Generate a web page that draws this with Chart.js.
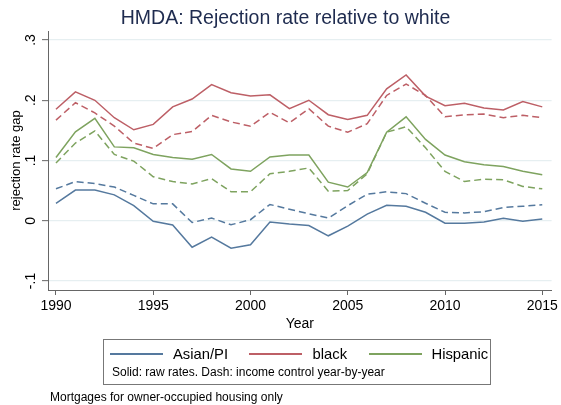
<!DOCTYPE html>
<html>
<head>
<meta charset="utf-8">
<script src="https://cdn.jsdelivr.net/npm/chart.js@4"></script>
<style>
  html, body { margin:0; padding:0; background:#fff; }
  #wrap { position:relative; width:561px; height:405px; background:#fff; overflow:hidden;
          font-family:"Liberation Sans", Arial, Helvetica, sans-serif; }
  #c { position:absolute; left:0; top:0; }
  .t { position:absolute; white-space:nowrap; color:#000; }
  #title { left:0; width:571px; text-align:center; top:7px; font-size:19.5px; line-height:20px; color:#1e2b4f; }
  #legbox { position:absolute; left:103px; top:339px; width:388px; height:46px; box-sizing:border-box; border:1px solid #777; }
  .ls { position:absolute; height:1.5px; width:53px; top:353px; }
  .lt { font-size:14.8px; line-height:16px; top:346px; }
  #note { left:112px; top:364.5px; font-size:12px; line-height:14px; }
  #foot { left:50px; top:389.5px; font-size:12px; line-height:14px; }
</style>
</head>
<body>
<div id="wrap">
  <canvas id="c" width="561" height="405"></canvas>
  <div class="t" id="title">HMDA: Rejection rate relative to white</div>
  <div id="legbox"></div>
  <div class="ls" id="ls0" style="left:110px;"></div>
  <div class="t lt" id="lt0" style="left:173px;"></div>
  <div class="ls" id="ls1" style="left:249px;"></div>
  <div class="t lt" id="lt1" style="left:312.5px;"></div>
  <div class="ls" id="ls2" style="left:368.5px;"></div>
  <div class="t lt" id="lt2" style="left:431.5px;"></div>
  <div class="t" id="note">Solid: raw rates. Dash: income control year-by-year</div>
  <div class="t" id="foot">Mortgages for owner-occupied housing only</div>
</div>
<script>
// ---- data ----
const years = [1990,1991,1992,1993,1994,1995,1996,1997,1998,1999,2000,2001,2002,2003,2004,2005,2006,2007,2008,2009,2010,2011,2012,2013,2014,2015];
const groups = ['Asian/PI', 'black', 'Hispanic'];
const asianRaw = [0.029,0.051,0.051,0.043,0.025,-0.001,-0.007,-0.044,-0.027,-0.0455,-0.040,-0.002,-0.0055,-0.008,-0.025,-0.009,0.011,0.0255,0.024,0.014,-0.004,-0.004,-0.002,0.004,-0.001,0.003];
const asianInc = [0.053,0.065,0.0616,0.056,0.042,0.028,0.028,-0.003,0.0044,-0.0067,0.0017,0.027,0.019,0.0116,0.0044,0.025,0.044,0.048,0.045,0.029,0.014,0.013,0.015,0.022,0.024,0.0266];
const blackRaw = [0.185,0.214,0.200,0.171,0.151,0.160,0.189,0.202,0.226,0.2125,0.207,0.209,0.186,0.200,0.176,0.168,0.175,0.219,0.242,0.207,0.191,0.195,0.187,0.184,0.198,0.189];
const blackInc = [0.167,0.196,0.179,0.157,0.129,0.120,0.143,0.148,0.175,0.164,0.157,0.180,0.1625,0.186,0.157,0.147,0.161,0.208,0.227,0.208,0.1725,0.176,0.177,0.171,0.175,0.171];
const hispRaw  = [0.105,0.1475,0.170,0.1226,0.121,0.110,0.105,0.102,0.110,0.086,0.082,0.106,0.109,0.109,0.064,0.056,0.080,0.147,0.1725,0.135,0.109,0.098,0.093,0.090,0.082,0.0765];
const hispInc  = [0.096,0.129,0.149,0.110,0.099,0.073,0.065,0.061,0.070,0.048,0.048,0.078,0.082,0.0876,0.049,0.050,0.078,0.147,0.156,0.121,0.082,0.065,0.069,0.068,0.057,0.053];
const xTickValues = [1990,1995,2000,2005,2010,2015];
const yTickValues = [-0.1,0,0.1,0.2,0.3];
const yTickLabels = ['-.1','0','.1','.2','.3'];

const colors = ['#55799e', '#bd5f66', '#7ea35f'];
const FONT = '"Liberation Sans", Arial, Helvetica, sans-serif';
Chart.defaults.font.family = FONT;

// legend DOM
groups.forEach((g,i)=>{
  document.getElementById('ls'+i).style.backgroundColor = colors[i];
  document.getElementById('lt'+i).textContent = g;
});

function pts(arr){ return years.map((y,i)=>({x:y, y:arr[i]})); }
function ds(label, arr, color, dashed){
  return { label, data: pts(arr), borderColor: color, backgroundColor: color,
           borderWidth: 1.5, pointRadius: 0, tension: 0, fill: false,
           borderDash: dashed ? [7,4] : [] };
}

const yLabelPlugin = {
  id: 'yLabels',
  afterDraw(chart){
    const ctx = chart.ctx, ys = chart.scales.y;
    ctx.save();
    ctx.fillStyle = '#000';
    ctx.font = '14px ' + FONT;
    ctx.textAlign = 'center';
    ctx.textBaseline = 'middle';
    yTickValues.forEach((v,i)=>{
      const py = ys.getPixelForValue(v);
      ctx.save();
      ctx.translate(31, py);
      ctx.rotate(-Math.PI/2);
      ctx.fillText(yTickLabels[i], 0, 0);
      ctx.restore();
    });
    ctx.restore();
  }
};

new Chart(document.getElementById('c'), {
  type: 'line',
  data: { datasets: [
    ds(groups[0]+' raw', asianRaw, colors[0], false),
    ds(groups[1]+' raw', blackRaw, colors[1], false),
    ds(groups[2]+' raw', hispRaw, colors[2], false),
    ds(groups[0]+' income', asianInc, colors[0], true),
    ds(groups[1]+' income', blackInc, colors[1], true),
    ds(groups[2]+' income', hispInc, colors[2], true)
  ]},
  options: {
    responsive: false, animation: false, devicePixelRatio: 1,
    layout: { padding: { left: 0, right: 9, top: 31, bottom: 70 } },
    plugins: { legend: { display: false }, tooltip: { enabled: false }, title: { display: false } },
    scales: {
      x: {
        type: 'linear', min: 1989.59, max: 2015.48,
        afterBuildTicks: s => { s.ticks = xTickValues.map(v => ({ value: v })); },
        afterFit: s => { s.height = 45; },
        ticks: { callback: v => String(v), color: '#000', font: { size: 14 }, padding: 3, maxRotation: 0, autoSkip: false },
        grid: { drawOnChartArea: false, drawTicks: true, tickLength: 5, tickColor: '#666', tickWidth: 1 },
        border: { display: true, color: '#666', width: 1 },
        title: { display: true, text: 'Year', color: '#000', font: { size: 14 }, padding: { top: 0, bottom: 2.6 } }
      },
      y: {
        type: 'linear', min: -0.115, max: 0.315,
        afterBuildTicks: s => { s.ticks = yTickValues.map(v => ({ value: v })); },
        afterFit: s => { s.width = 48; },
        ticks: { display: false },
        grid: { color: '#e6eff1', lineWidth: 1.3, drawTicks: true, tickLength: 6, tickColor: '#666', tickWidth: 1 },
        border: { display: true, color: '#666', width: 1 },
        title: { display: true, text: 'rejection rate gap', color: '#000', font: { size: 13 }, padding: { top: 9, bottom: 0 } }
      }
    }
  },
  plugins: [yLabelPlugin]
});
</script>
</body>
</html>
